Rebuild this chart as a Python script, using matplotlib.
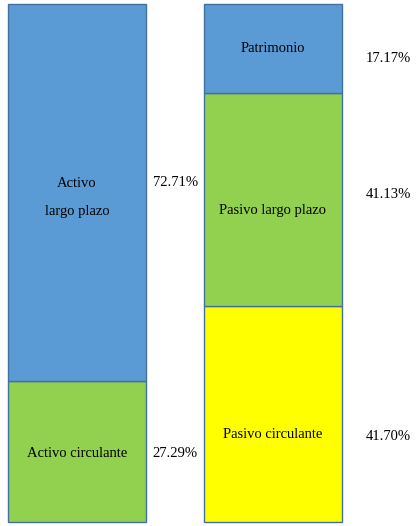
import matplotlib
matplotlib.use('Agg')
import matplotlib.pyplot as plt

# left column (assets), bottom to top
activo_labels = ['Activo circulante', 'Activo\nlargo plazo']
activo_values = [27.29, 72.71]
activo_colors = ['#92D050', '#5B9BD5']

# right column (liabilities + equity), bottom to top
pasivo_labels = ['Pasivo circulante', 'Pasivo largo plazo', 'Patrimonio']
pasivo_values = [41.70, 41.13, 17.17]
pasivo_colors = ['#FFFF00', '#92D050', '#5B9BD5']

plt.rcParams['font.family'] = ['Liberation Serif', 'DejaVu Serif']

fig = plt.figure(figsize=(4.17, 5.26), dpi=100)
ax = fig.add_axes([0, 0, 1, 1])

width = 0.706
# (x, labels, values, colors, gap to % label, label nudge px, % nudge px)
columns = [
    (0, activo_labels, activo_values, activo_colors, 0.15, [2, 5], [2, -10]),
    (1, pasivo_labels, pasivo_values, pasivo_colors, 0.24, [20, 11, 0], [22, -5, 10]),
]

for x, labels, values, colors, pct_gap, text_dy, pct_dy in columns:
    bottom = 0
    for label, val, col, dy, pdy in zip(labels, values, colors, text_dy, pct_dy):
        ax.bar(x, val, width=width, bottom=bottom, color=col,
               edgecolor='#41719C', linewidth=1.0)
        mid = bottom + val / 2
        ax.annotate(label, (x, mid), xytext=(0, -dy), textcoords='offset pixels',
                    ha='center', va='center', fontsize=10.5, linespacing=2.5)
        ax.annotate('%.2f%%' % val, (x + width / 2 + pct_gap, mid),
                    xytext=(0, -pdy), textcoords='offset pixels',
                    ha='center', va='center', fontsize=10.5)
        bottom += val

ax.set_xlim(-0.394, 1.739)
ax.set_ylim(-0.77, 100.77)
ax.axis('off')

fig.savefig('out.png', dpi=100)
